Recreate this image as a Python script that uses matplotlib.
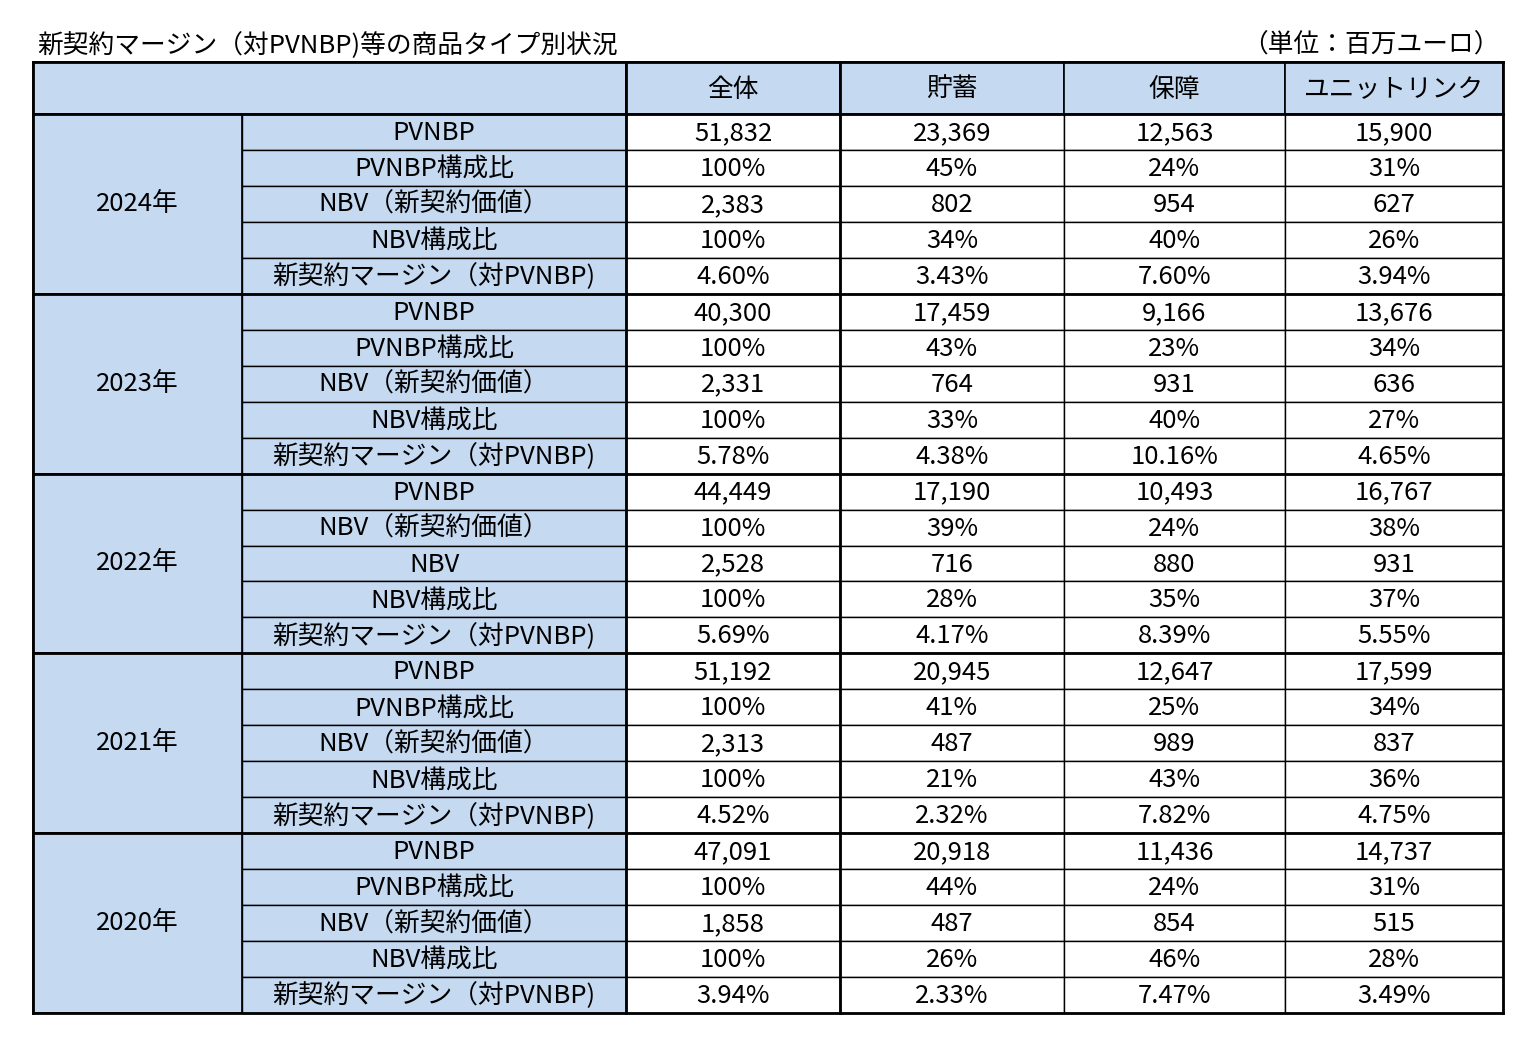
import matplotlib
matplotlib.use("Agg")
import matplotlib.pyplot as plt
from matplotlib.patches import Rectangle

plt.rcParams["font.family"] = ["Noto Sans CJK JP", "DejaVu Sans"]

title = "新契約マージン（対PVNBP)等の商品タイプ別状況"
unit = "（単位：百万ユーロ）"
columns = ["全体", "貯蓄", "保障", "ユニットリンク"]
years = ["2024年", "2023年", "2022年", "2021年", "2020年"]
labels_std = ["PVNBP", "PVNBP構成比", "NBV（新契約価値）", "NBV構成比", "新契約マージン（対PVNBP)"]
labels_2022 = ["PVNBP", "NBV（新契約価値）", "NBV", "NBV構成比", "新契約マージン（対PVNBP)"]
row_labels = [labels_std, labels_std, labels_2022, labels_std, labels_std]

values = [
    [["51,832", "23,369", "12,563", "15,900"], ["100%", "45%", "24%", "31%"],
     ["2,383", "802", "954", "627"], ["100%", "34%", "40%", "26%"],
     ["4.60%", "3.43%", "7.60%", "3.94%"]],
    [["40,300", "17,459", "9,166", "13,676"], ["100%", "43%", "23%", "34%"],
     ["2,331", "764", "931", "636"], ["100%", "33%", "40%", "27%"],
     ["5.78%", "4.38%", "10.16%", "4.65%"]],
    [["44,449", "17,190", "10,493", "16,767"], ["100%", "39%", "24%", "38%"],
     ["2,528", "716", "880", "931"], ["100%", "28%", "35%", "37%"],
     ["5.69%", "4.17%", "8.39%", "5.55%"]],
    [["51,192", "20,945", "12,647", "17,599"], ["100%", "41%", "25%", "34%"],
     ["2,313", "487", "989", "837"], ["100%", "21%", "43%", "36%"],
     ["4.52%", "2.32%", "7.82%", "4.75%"]],
    [["47,091", "20,918", "11,436", "14,737"], ["100%", "44%", "24%", "31%"],
     ["1,858", "487", "854", "515"], ["100%", "26%", "46%", "28%"],
     ["3.94%", "2.33%", "7.47%", "3.49%"]],
]

W, H = 1537, 1045
fig = plt.figure(figsize=(W / 100, H / 100), dpi=100)
ax = fig.add_axes([0, 0, 1, 1])
ax.set_xlim(0, W)
ax.set_ylim(H, 0)
ax.axis("off")

blue = "#C5D9F1"
xs = [33, 242, 626, 840, 1064, 1285, 1503]
y_head0, y_head1 = 62, 114
y_end = 1013
nrows = 25
rh = (y_end - y_head1) / nrows
fs = 18.5

ax.text(37, 46, title, fontsize=18.5, va="center", ha="left")
ax.text(1500, 46, unit, fontsize=18.5, va="center", ha="right")

# header
ax.add_patch(Rectangle((xs[0], y_head0), xs[2] - xs[0], y_head1 - y_head0, fc=blue, ec="black", lw=1.2))
for j, c in enumerate(columns):
    ax.add_patch(Rectangle((xs[j + 2], y_head0), xs[j + 3] - xs[j + 2], y_head1 - y_head0, fc=blue, ec="black", lw=1.2))
    ax.text((xs[j + 2] + xs[j + 3]) / 2, (y_head0 + y_head1) / 2 + 2, c, fontsize=fs, ha="center", va="center")

for g, yr in enumerate(years):
    gy0 = y_head1 + g * 5 * rh
    ax.add_patch(Rectangle((xs[0], gy0), xs[1] - xs[0], 5 * rh, fc=blue, ec="black", lw=1.2))
    ax.text((xs[0] + xs[1]) / 2, gy0 + 2.5 * rh, yr, fontsize=fs, ha="center", va="center")
    for r in range(5):
        y0 = gy0 + r * rh
        yc = y0 + rh / 2 + 1
        ax.add_patch(Rectangle((xs[1], y0), xs[2] - xs[1], rh, fc=blue, ec="black", lw=1.0))
        ax.text((xs[1] + xs[2]) / 2, yc, row_labels[g][r], fontsize=fs, ha="center", va="center")
        for j in range(4):
            ax.add_patch(Rectangle((xs[j + 2], y0), xs[j + 3] - xs[j + 2], rh, fc="white", ec="black", lw=1.0))
            ax.text((xs[j + 2] + xs[j + 3]) / 2, yc, values[g][r][j], fontsize=fs, ha="center", va="center")
    ax.plot([xs[0], xs[-1]], [gy0, gy0], color="black", lw=2)

ax.plot([xs[0], xs[-1]], [y_end, y_end], color="black", lw=2)
ax.plot([xs[0], xs[-1]], [y_head0, y_head0], color="black", lw=2)
for x in (xs[0], xs[2], xs[3], xs[-1]):
    ax.plot([x, x], [y_head0, y_end], color="black", lw=2)

fig.savefig("out.png", dpi=100, facecolor="white")
